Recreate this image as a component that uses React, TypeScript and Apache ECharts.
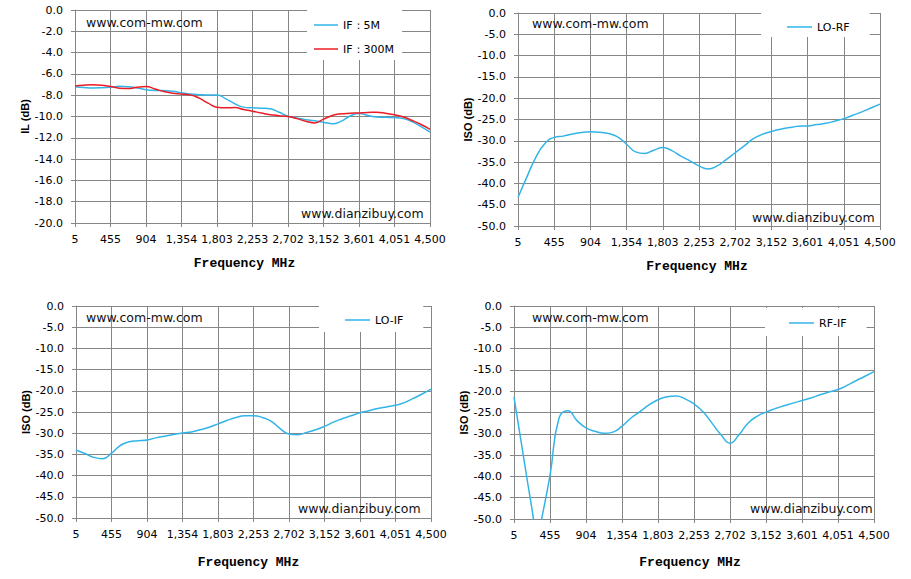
import React, { useEffect, useRef } from 'react';
import * as echarts from 'echarts';

// sweep points in MHz (every 4th one is labelled)
const freqs = [
  5, 117, 230, 342, 455, 567, 679, 792, 904, 1016, 1129, 1241, 1354, 1466, 1578, 1691, 1803, 1915, 2028, 2140,
  2253, 2365, 2477, 2590, 2702, 2814, 2927, 3039, 3152, 3264, 3376, 3489, 3601, 3713, 3826, 3938, 4051, 4163,
  4275, 4388, 4500,
];

// insertion loss (dB)
const if5M = [
  -7.2, -7.28, -7.32, -7.3, -7.25, -7.17, -7.2, -7.32, -7.48, -7.55, -7.57, -7.63, -7.78, -7.88, -7.96, -7.97,
  -7.97, -8.34, -8.8, -9.12, -9.19, -9.22, -9.28, -9.6, -9.97, -10.15, -10.3, -10.4, -10.53, -10.69, -10.44,
  -9.95, -9.72, -9.9, -10.05, -10.08, -10.1, -10.2, -10.5, -10.95, -11.47,
];
const if300M = [
  -7.13, -7.06, -7.03, -7.06, -7.19, -7.34, -7.38, -7.25, -7.19, -7.41, -7.66, -7.81, -7.88, -7.97, -8.28,
  -8.75, -9.13, -9.19, -9.16, -9.34, -9.5, -9.68, -9.84, -9.92, -10.0, -10.2, -10.44, -10.6, -10.25, -9.9,
  -9.75, -9.7, -9.66, -9.62, -9.59, -9.7, -9.84, -10.05, -10.38, -10.75, -11.2,
];

// isolation (dB)
const loRf = [
  -43.3, -38.4, -33.75, -30.6, -29.2, -28.9, -28.4, -28.05, -27.9, -27.97, -28.3, -29.06, -30.8, -32.6, -32.97,
  -32.2, -31.6, -32.3, -33.6, -34.7, -35.9, -36.6, -35.9, -34.4, -32.8, -31.2, -29.5, -28.5, -27.8, -27.3,
  -26.9, -26.6, -26.5, -26.2, -25.9, -25.4, -24.8, -24.0, -23.2, -22.3, -21.4,
];
const loIf = [
  -33.96, -34.8, -35.7, -36.0, -34.7, -32.9, -32.0, -31.8, -31.6, -31.1, -30.7, -30.3, -29.95, -29.7, -29.2,
  -28.6, -27.8, -27.0, -26.3, -25.9, -25.9, -26.3, -27.2, -28.9, -30.2, -30.35, -29.8, -29.2, -28.4, -27.4,
  -26.6, -25.9, -25.2, -24.7, -24.2, -23.8, -23.4, -22.8, -21.8, -20.75, -19.6,
];

// RF-IF has an extra point at the bottom of the deep notch (goes off scale)
const rfIfFreqs = [
  5, 117, 230, 300, 342, 455, 567, 679, 792, 904, 1016, 1129, 1241, 1354, 1466, 1578, 1691, 1803, 1915, 2028,
  2140, 2253, 2365, 2477, 2590, 2702, 2814, 2927, 3039, 3152, 3264, 3376, 3489, 3601, 3713, 3826, 3938, 4051,
  4163, 4275, 4388, 4500,
];
const rfIf = [
  -21.4, -34.6, -47.7, -55, -50.8, -39.7, -26.3, -24.6, -26.9, -28.6, -29.4, -29.9, -29.6, -28.2, -26.3, -24.8,
  -23.2, -22.0, -21.3, -21.1, -21.8, -23.0, -24.8, -27.5, -30.25, -32.2, -30.25, -27.5, -25.9, -24.9, -24.1,
  -23.4, -22.8, -22.2, -21.6, -20.85, -20.2, -19.6, -18.65, -17.55, -16.5, -15.4,
];

const GRID_GRAY = '#868686';
const BLUE = '#33b4e8';
const RED = '#ee1c24';

const grids = [
  { left: 75, top: 10, width: 355, height: 213 },
  { left: 518, top: 13, width: 362, height: 213 },
  { left: 76, top: 306, width: 355, height: 212 },
  { left: 514, top: 306, width: 360, height: 213 },
];

const labelFont = { fontFamily: 'DejaVu Sans', fontSize: 11, color: '#000' };

const makeX = (i: number, gap: number, shift: number) => ({
  type: 'category',
  gridIndex: i,
  data: freqs,
  boundaryGap: false,
  axisLine: { onZero: false, lineStyle: { color: GRID_GRAY } },
  axisTick: { interval: 3, length: 4, lineStyle: { color: GRID_GRAY } },
  axisLabel: {
    ...labelFont,
    interval: 3,
    margin: 11,
    formatter: (v: string) => Math.round(Number(v)).toLocaleString('en-US'),
  },
  splitLine: { show: true, interval: 3, lineStyle: { color: GRID_GRAY } },
  name: 'Frequency MHz',
  nameLocation: 'middle',
  nameGap: gap,
  nameTextStyle: {
    fontFamily: 'Liberation Mono',
    fontWeight: 'bold',
    fontSize: 13,
    color: '#000',
    padding: [0, shift, 0, 0],
  },
});

const makeY = (i: number, name: string, min: number, step: number, gap: number) => ({
  type: 'value',
  gridIndex: i,
  min,
  max: 0,
  interval: step,
  axisLine: { show: true, lineStyle: { color: GRID_GRAY } },
  axisTick: { show: true, length: 4, lineStyle: { color: GRID_GRAY } },
  axisLabel: { ...labelFont, margin: 12, formatter: (v: number) => v.toFixed(1) },
  splitLine: { show: true, lineStyle: { color: GRID_GRAY } },
  name,
  nameLocation: 'middle',
  nameRotate: 90,
  nameGap: gap,
  nameTextStyle: { fontFamily: 'Liberation Sans', fontWeight: 'bold', fontSize: 11, color: '#000' },
});

const makeLine = (name: string, xi: number, yi: number, data: any[], color: string) => ({
  name,
  type: 'line',
  xAxisIndex: xi,
  yAxisIndex: yi,
  data,
  smooth: true,
  symbol: 'none',
  lineStyle: { width: 1.5, color },
  itemStyle: { color },
});

// plain line swatch, no marker
const legendBase = {
  orient: 'vertical',
  icon: 'rect',
  itemWidth: 25,
  itemHeight: 1.5,
  backgroundColor: '#fff',
  textStyle: { fontFamily: 'DejaVu Sans', fontSize: 11, color: '#000', lineHeight: 14 },
};

const mark = (x: number, y: number, text: string) => ({
  type: 'text',
  x,
  y,
  z: 10,
  style: { text, fontFamily: 'DejaVu Sans', fontSize: 12.5, fill: '#111', verticalAlign: 'middle' },
});

const App: React.FC = () => {
  const chartRef = useRef<HTMLDivElement>(null);

  useEffect(() => {
    const chart = echarts.init(chartRef.current!, undefined, { renderer: 'svg' });

    chart.setOption({
      animation: false,
      grid: grids,
      xAxis: [
        makeX(0, 34, 16),
        makeX(1, 34, 4),
        makeX(2, 38, 10),
        makeX(3, 37, 8),
        // hidden frequency scale for the RF-IF trace
        { type: 'value', gridIndex: 3, min: 5, max: 4500, show: false },
      ],
      yAxis: [
        makeY(0, 'IL (dB)', -20, 2, 39),
        makeY(1, 'ISO (dB)', -50, 5, 43),
        makeY(2, 'ISO (dB)', -50, 5, 40),
        makeY(3, 'ISO (dB)', -50, 5, 43),
      ],
      legend: [
        { ...legendBase, data: ['IF：5M', 'IF：300M'], left: 307, top: 10, padding: [8, 8, 4, 7], itemGap: 10, itemWidth: 24 },
        { ...legendBase, data: ['LO-RF'], left: 761, top: 13, padding: [7, 20, 3, 26] },
        { ...legendBase, data: ['LO-IF'], left: 319, top: 306, padding: [7, 20, 5, 26] },
        { ...legendBase, data: ['RF-IF'], left: 765, top: 308, padding: [8, 20, 6, 24] },
      ],
      series: [
        makeLine('IF：5M', 0, 0, if5M, BLUE),
        makeLine('IF：300M', 0, 0, if300M, RED),
        makeLine('LO-RF', 1, 1, loRf, BLUE),
        makeLine('LO-IF', 2, 2, loIf, BLUE),
        makeLine('RF-IF', 4, 3, rfIfFreqs.map((f, k) => [f, rfIf[k]]), BLUE),
      ],
      graphic: [
        mark(86, 22, 'www.com-mw.com'),
        mark(301, 213, 'www.dianzibuy.com'),
        mark(532, 23, 'www.com-mw.com'),
        mark(752, 217, 'www.dianzibuy.com'),
        mark(86, 317, 'www.com-mw.com'),
        mark(298, 508, 'www.dianzibuy.com'),
        mark(532, 317, 'www.com-mw.com'),
        mark(750, 508, 'www.dianzibuy.com'),
      ],
    });

    return () => {
      chart.dispose();
    };
  }, []);

  return (
    <div
      ref={chartRef}
      style={{ position: 'absolute', left: 0, top: 0, width: '911px', height: '579px', background: '#fff' }}
    />
  );
};

export default App;
